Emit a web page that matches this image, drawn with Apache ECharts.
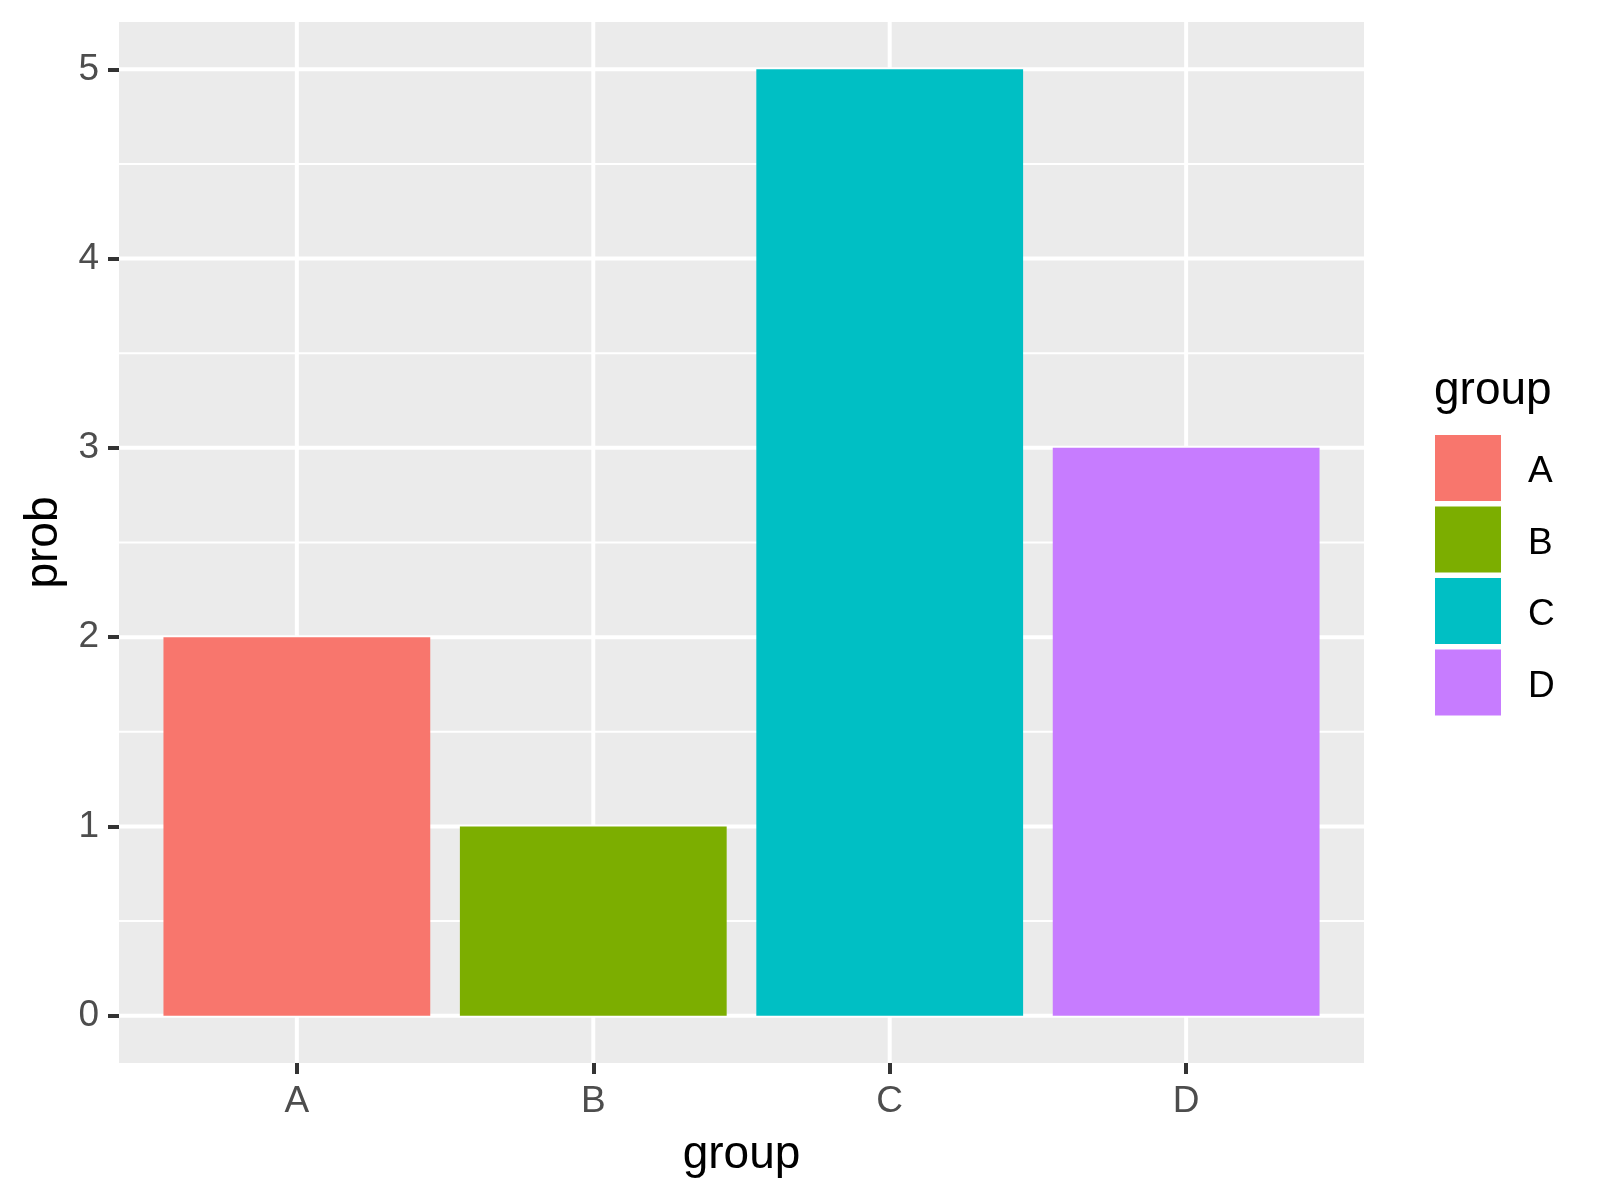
<!DOCTYPE html>
<html>
<head>
<meta charset="utf-8">
<script src="https://cdn.jsdelivr.net/npm/echarts@6/dist/echarts.min.js"></script>
<style>
html,body{margin:0;padding:0;background:#fff;}
#chart{width:1600px;height:1200px;}
</style>
</head>
<body>
<div id="chart"></div>
<script>
const categories = ['A', 'B', 'C', 'D'];
const categoryPositions = [1, 2, 3, 4];
const probValues = [2, 1, 5, 3];
const groupColors = ['#F8766D', '#7CAE00', '#00BFC4', '#C77CFF'];
const yTickValues = [0, 1, 2, 3, 4, 5];
const yMinorValues = [0.5, 1.5, 2.5, 3.5, 4.5];

const FONT = 'Liberation Sans, Arial, sans-serif';
const chart = echarts.init(document.getElementById('chart'), null, {renderer: 'canvas'});

function hLineRenderer(width) {
  return function (params, api) {
    const cs = params.coordSys;
    const p = api.coord([categoryPositions[0], api.value(0)]);
    return {
      type: 'line',
      shape: {x1: cs.x, y1: p[1], x2: cs.x + cs.width, y2: p[1]},
      style: {stroke: '#FFFFFF', lineWidth: width}
    };
  };
}
function vLineRenderer(width) {
  return function (params, api) {
    const cs = params.coordSys;
    const p = api.coord([api.value(0), yTickValues[0]]);
    return {
      type: 'line',
      shape: {x1: p[0], y1: cs.y, x2: p[0], y2: cs.y + cs.height},
      style: {stroke: '#FFFFFF', lineWidth: width}
    };
  };
}
function barRenderer(params, api) {
  const x = api.value(0), y = api.value(1);
  const p1 = api.coord([x - 0.45, y]);
  const p2 = api.coord([x + 0.45, 0]);
  return {
    type: 'rect',
    shape: {x: p1[0], y: p1[1], width: p2[0] - p1[0], height: p2[1] - p1[1]},
    style: {fill: api.visual('color')}
  };
}

const series = [
  {type: 'custom', name: '_minor', silent: true, z: 1, renderItem: hLineRenderer(2),
   data: yMinorValues.map(v => [v]), encode: {y: 0}},
  {type: 'custom', name: '_major', silent: true, z: 1, renderItem: hLineRenderer(4),
   data: yTickValues.map(v => [v]), encode: {y: 0}},
  {type: 'custom', name: '_vmajor', silent: true, z: 1, renderItem: vLineRenderer(4),
   data: categoryPositions.map(v => [v]), encode: {x: 0}}
];
categories.forEach((c, i) => {
  series.push({
    type: 'custom', name: c, z: 2,
    itemStyle: {color: groupColors[i]},
    renderItem: barRenderer,
    data: [[categoryPositions[i], probValues[i]]],
    encode: {x: 0, y: 1}
  });
});

chart.setOption({
  animation: false,
  backgroundColor: '#FFFFFF',
  textStyle: {fontFamily: FONT},
  grid: {left: 119, right: 236, top: 22, bottom: 137, show: true,
         backgroundColor: '#EBEBEB', borderWidth: 0},
  xAxis: {
    type: 'value', min: 0.4, max: 4.6, position: 'bottom',
    name: 'group', nameLocation: 'middle', nameGap: 69,
    nameTextStyle: {fontSize: 46, color: '#000000', fontFamily: FONT},
    axisLine: {show: false, onZero: false},
    axisTick: {show: true, length: 11, customValues: categoryPositions,
               lineStyle: {color: '#333333', width: 4}},
    axisLabel: {customValues: categoryPositions, fontSize: 37, color: '#4D4D4D', margin: 20,
                fontFamily: FONT,
                formatter: v => categories[categoryPositions.indexOf(v)] || ''},
    splitLine: {show: false}
  },
  yAxis: {
    type: 'value', min: -0.25, max: 5.25, position: 'left',
    name: 'prob', nameLocation: 'middle', nameGap: 52, nameRotate: 90,
    nameTextStyle: {fontSize: 46, color: '#000000', fontFamily: FONT},
    axisLine: {show: false, onZero: false},
    axisTick: {show: true, length: 11, customValues: yTickValues,
               lineStyle: {color: '#333333', width: 4}},
    axisLabel: {customValues: yTickValues, fontSize: 37, color: '#4D4D4D', margin: 20,
                fontFamily: FONT},
    splitLine: {show: false}
  },
  legend: {
    orient: 'vertical', left: 1435, top: 435, padding: 0,
    data: categories,
    icon: 'rect', itemWidth: 66, itemHeight: 66, itemGap: 5.5,
    formatter: '{lbl|{name}}',
    textStyle: {fontSize: 37, color: '#000000', fontFamily: FONT,
                rich: {lbl: {fontSize: 37, color: '#000000', fontFamily: FONT,
                             padding: [8, 0, 0, 22]}}},
    selectedMode: false
  },
  graphic: [{
    type: 'text', left: 1434, top: 368,
    style: {text: 'group', fontSize: 46, fill: '#000000', fontFamily: FONT}
  }],
  series: series
});
</script>
</body>
</html>
